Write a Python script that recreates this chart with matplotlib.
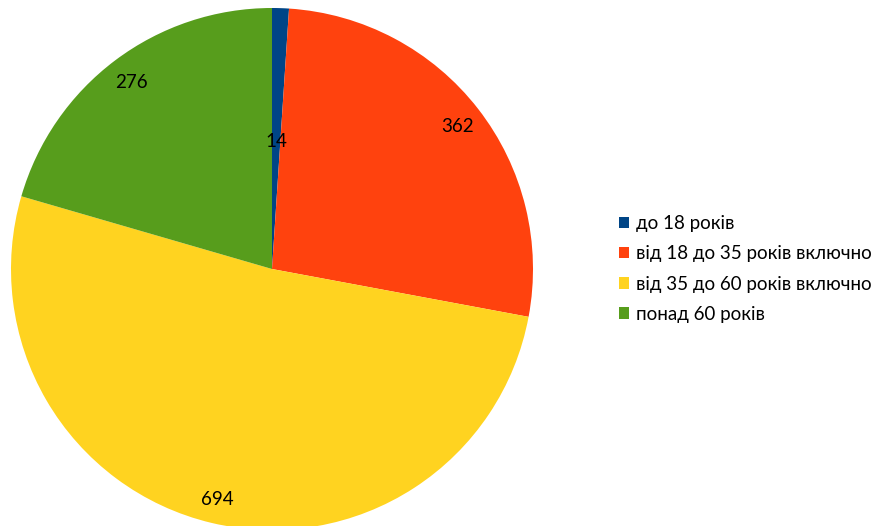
import matplotlib
matplotlib.use("Agg")
import matplotlib.pyplot as plt
import numpy as np

categories = ["до 18 років", "від 18 до 35 років включно",
              "від 35 до 60 років включно", "понад 60 років"]
values = [14, 362, 694, 276]
colors = ["#004586", "#ff420e", "#ffd320", "#579d1c"]

plt.rcParams['font.family'] = ['Lato', 'DejaVu Sans']

W, H = 882, 526
fig = plt.figure(figsize=(W/100, H/100), dpi=100)
cx, cy, r = 272, 269, 261
ax = fig.add_axes([(cx - r)/W, (H - cy - r)/H, 2*r/W, 2*r/H])
wedges, texts = ax.pie(values, colors=colors, startangle=90, counterclock=False,
                       labels=[str(v) for v in values], labeldistance=0.9,
                       radius=1.0, wedgeprops=dict(linewidth=0),
                       textprops=dict(fontsize=13.5, color="black"))
for t in texts:
    t.set_ha("center"); t.set_va("center_baseline")
# small slice label placed closer to centre
x, y = texts[0].get_position()
texts[0].set_position((x * 0.49/0.9, y * 0.49/0.9))
texts[0].set_va("center")
ax.set_xlim(-1, 1); ax.set_ylim(-1, 1)
ax.set_aspect("equal")
ax.axis("off")

leg = fig.legend(wedges, categories, loc="center left",
                 bbox_to_anchor=(619/W, 1 - 269/H), frameon=False,
                 borderpad=0, borderaxespad=0,
                 fontsize=13.5, handlelength=0.55, handleheight=0.55,
                 handletextpad=0.38, labelspacing=0.7)
fig.savefig("out.png", dpi=100)
